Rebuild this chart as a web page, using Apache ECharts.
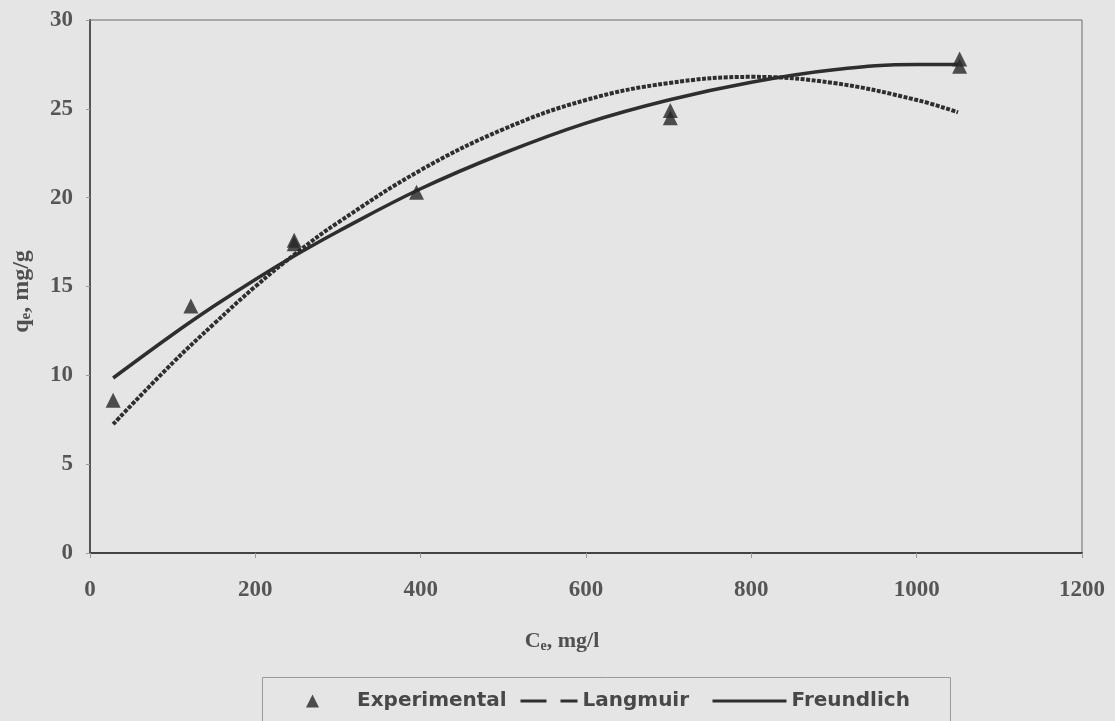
<!DOCTYPE html>
<html>
<head>
<meta charset="utf-8">
<script src="https://cdn.jsdelivr.net/npm/echarts@6/dist/echarts.min.js"></script>
<style>
  html, body { margin: 0; padding: 0; background: #e5e5e5; }
  #chart { width: 1115px; height: 721px; }
</style>
</head>
<body>
<div id="chart"></div>
<script>
// Adsorption isotherm: equilibrium concentration Ce (mg/l) vs uptake qe (mg/g)

// Experimental measurements [Ce, qe]
const experimentalCe = [28, 122, 247, 247, 395, 702, 702, 1052, 1052];
const experimentalQe = [8.6, 13.9, 17.6, 17.4, 20.3, 24.9, 24.5, 27.8, 27.4];

// Fitted curves, sampled along Ce
const curveCe      = [28, 100, 150, 200, 250, 300, 400, 500, 600, 700, 800, 900, 1000, 1050];
const langmuirQe   = [7.25, 10.7, 12.9, 15.0, 16.9, 18.6, 21.55, 23.85, 25.5, 26.45, 26.8, 26.45, 25.5, 24.8];
const freundlichQe = [9.85, 12.3, 13.9, 15.4, 16.8, 18.1, 20.5, 22.5, 24.2, 25.5, 26.5, 27.2, 27.5, 27.5];

// Axis ticks
const xTicks = { min: 0, max: 1200, interval: 200 };
const yTicks = { min: 0, max: 30, interval: 5 };

const pairs = (xs, ys) => xs.map((x, i) => [x, ys[i]]);

const serif = '"Liberation Serif", "Times New Roman", serif';
const legendFont = '"DejaVu Sans", sans-serif';
const ink = '#2e2e2e';

const chart = echarts.init(document.getElementById('chart'));

const legendText = {
  fontFamily: legendFont,
  fontSize: 20,
  fontWeight: 'bold',
  color: '#484848'
};

chart.setOption({
  backgroundColor: '#e5e5e5',
  animation: false,
  grid: {
    left: 90, top: 20, right: 33, bottom: 168,
    show: true,
    borderColor: '#6a6a6a',
    borderWidth: 1,
    backgroundColor: 'transparent'
  },
  xAxis: {
    type: 'value',
    min: xTicks.min, max: xTicks.max, interval: xTicks.interval,
    name: 'C{sub|e}, mg/l',
    nameLocation: 'middle',
    nameGap: 76,
    nameTextStyle: {
      fontFamily: serif, fontSize: 22, fontWeight: 'bold', color: '#505050',
      padding: [0, 48, 0, 0],
      rich: {
        sub: { fontFamily: serif, fontSize: 14, fontWeight: 'bold', color: '#505050', verticalAlign: 'bottom', padding: [10, 0, 0, 0] }
      }
    },
    axisLine: { show: true, onZero: false, lineStyle: { color: '#444', width: 2 } },
    axisTick: { show: true, length: 5, lineStyle: { color: '#9a9a9a', width: 1 } },
    axisLabel: {
      margin: 26, fontFamily: serif, fontSize: 23, fontWeight: 'bold', color: '#555',
      formatter: v => String(v)
    },
    splitLine: { show: false }
  },
  yAxis: {
    type: 'value',
    min: yTicks.min, max: yTicks.max, interval: yTicks.interval,
    name: 'q{sub|e}, mg/g',
    nameLocation: 'middle',
    nameGap: 56,
    nameRotate: 90,
    nameTextStyle: {
      fontFamily: serif, fontSize: 24, fontWeight: 'bold', color: '#505050',
      padding: [0, 10, 0, 0],
      rich: {
        sub: { fontFamily: serif, fontSize: 15, fontWeight: 'bold', color: '#505050', verticalAlign: 'bottom', padding: [10, 0, 0, 0] }
      }
    },
    axisLine: { show: true, onZero: false, lineStyle: { color: '#555', width: 2 } },
    axisTick: { show: true, length: 4, lineStyle: { color: '#9a9a9a', width: 1 } },
    axisLabel: { margin: 17, fontFamily: serif, fontSize: 23, fontWeight: 'bold', color: '#555' },
    splitLine: { show: false }
  },
  legend: [
    {
      data: [{ name: 'Experimental', icon: 'triangle' }],
      left: 306, top: 691,
      itemWidth: 13, itemHeight: 13,
      padding: 0,
      textStyle: Object.assign({}, legendText, { padding: [0, 0, 0, 33] })
    },
    {
      data: [{ name: 'Langmuir' }],
      left: 519, top: 691,
      itemWidth: 57, itemHeight: 13,
      padding: 0,
      itemStyle: { opacity: 0 },
      lineStyle: { type: [26, 14], width: 3, color: ink },
      textStyle: legendText
    },
    {
      data: [{ name: 'Freundlich' }],
      left: 711, top: 691,
      itemWidth: 74, itemHeight: 13,
      padding: 0,
      itemStyle: { opacity: 0 },
      lineStyle: { type: 'solid', width: 3, color: ink },
      textStyle: legendText
    }
  ],
  graphic: [
    {
      type: 'rect',
      silent: true,
      shape: { x: 262.5, y: 677.5, width: 688, height: 60 },
      style: { fill: 'transparent', stroke: '#9a9a9a', lineWidth: 1 }
    }
  ],
  series: [
    {
      name: 'Langmuir',
      type: 'line',
      data: pairs(curveCe, langmuirQe),
      smooth: 0.4,
      symbol: 'none',
      lineStyle: { color: ink, width: 4, type: [4, 1.5] },
      itemStyle: { color: ink },
      z: 2
    },
    {
      name: 'Freundlich',
      type: 'line',
      data: pairs(curveCe, freundlichQe),
      smooth: 0.4,
      symbol: 'none',
      lineStyle: { color: ink, width: 3.5, type: 'solid' },
      itemStyle: { color: ink },
      z: 3
    },
    {
      name: 'Experimental',
      type: 'scatter',
      data: pairs(experimentalCe, experimentalQe),
      symbol: 'triangle',
      symbolSize: [15, 15],
      itemStyle: { color: '#262626' },
      z: 4
    }
  ]
});
</script>
</body>
</html>
